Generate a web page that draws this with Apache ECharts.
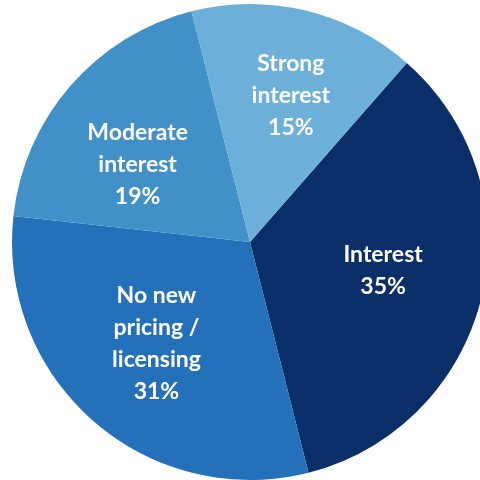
<!DOCTYPE html>
<html>
<head>
<meta charset="utf-8">
<script src="https://cdn.jsdelivr.net/npm/echarts@6/dist/echarts.min.js"></script>
<style>html,body{margin:0;padding:0;background:#fff}#c{width:480px;height:480px}</style>
</head>
<body>
<div id="c"></div>
<script>
const categories = ["Interest", "No new\npricing /\nlicensing", "Moderate\ninterest", "Strong\ninterest"];
const values = [34.6, 30.7, 19.3, 15.4];
const colors = ["#0a2e68", "#2471b9", "#4290c8", "#6cb0da"];
// small label nudges (px) to match the reference placement
const labelNudge = [[-4, -4], [-1, -5], [-6, 15], [8, -9]];

const chart = echarts.init(document.getElementById('c'), null, {renderer: 'canvas'});
const sliceData = categories.map((n, i) => ({name: n, value: values[i], itemStyle: {color: colors[i]}}));
const labelData = categories.map((n, i) => ({name: n, value: values[i]}));
chart.setOption({
  animation: false,
  series: [
    {
      type: 'pie',
      center: [250, 242],
      radius: [0, 238],
      startAngle: 48.8,
      clockwise: true,
      silent: true,
      label: {show: false},
      labelLine: {show: false},
      data: sliceData
    },
    {
      type: 'pie',
      center: [250, 242],
      radius: [38, 238],
      startAngle: 48.8,
      clockwise: true,
      silent: true,
      percentPrecision: 0,
      itemStyle: {color: 'rgba(0,0,0,0)'},
      label: {
        show: true,
        position: 'inside',
        formatter: '{b}\n{d}%',
        color: '#ffffff',
        fontFamily: 'Lato',
        fontWeight: 'bold',
        fontSize: 23,
        lineHeight: 32,
        align: 'center'
      },
      labelLayout: function (p) {
        const n = labelNudge[p.dataIndex];
        return {dx: n[0], dy: n[1]};
      },
      labelLine: {show: false},
      data: labelData
    }
  ]
});
</script>
</body>
</html>
